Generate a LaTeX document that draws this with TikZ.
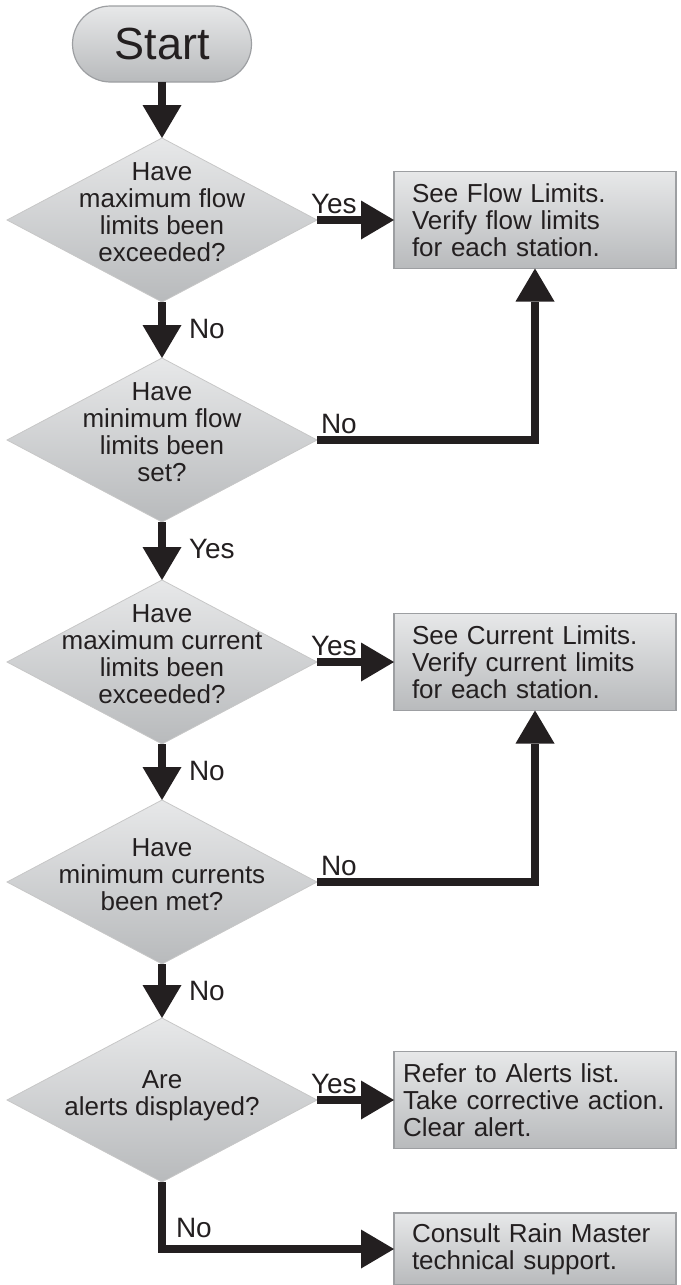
\documentclass[tikz,border=0pt]{standalone}
\usepackage{fontspec}
\setmainfont{Liberation Sans}
\usetikzlibrary{arrows.meta, calc, shapes.geometric}
\definecolor{ink}{HTML}{231F20}
\definecolor{shadetop}{HTML}{E7E8E9}
\definecolor{shadebot}{HTML}{B8BABC}
\definecolor{rim}{HTML}{9D9FA2}

\begin{document}
\begin{tikzpicture}[x=1pt, y=1pt, >={Triangle[width=39pt, length=33pt, line width=0pt]},
  every node/.style={text=ink},
  terminal/.style={rectangle, rounded corners=38pt, minimum width=179pt, minimum height=76pt, inner sep=0pt, outer sep=0pt,
    top color=shadetop, bottom color=shadebot, draw=rim, line width=1.2pt, font=\fontsize{45pt}{50pt}\selectfont},
  decision/.style={diamond, minimum width=310pt, minimum height=164pt, inner sep=0pt, outer sep=0pt,
    top color=shadetop, bottom color=shadebot, draw=black!22, line width=0.8pt},
  qtext/.style={align=center, inner sep=0pt, font=\fontsize{26pt}{27pt}\selectfont},
  action/.style={rectangle, minimum width=282pt, minimum height=97pt, text width=246pt, inner xsep=18pt, inner ysep=0pt, outer sep=0pt,
    align=left, top color=shadetop, bottom color=shadebot, draw=rim, line width=1.2pt, font=\fontsize{26pt}{27pt}\selectfont},
  tag/.style={inner sep=0pt, font=\fontsize{28pt}{30pt}\selectfont},
  flow/.style={->, draw=ink, line width=8pt}]
  \useasboundingbox (0,0) rectangle (680,-1285);

  % start and the five questions
  \node[terminal] (start) at (162,-44) {Start};
  \node[decision] (q1) at (162,-220) {};
  \node[decision] (q2) at (162,-440) {};
  \node[decision] (q3) at (162,-662) {};
  \node[decision] (q4) at (162,-882) {};
  \node[decision] (q5) at (162,-1100) {};
  \node[qtext] (q1t) at ($(q1)+(0,8)$) {Have\\maximum flow\\limits been\\exceeded?};
  \node[qtext] (q2t) at ($(q2)+(0,8)$) {Have\\minimum flow\\limits been\\set?};
  \node[qtext] (q3t) at ($(q3)+(0,8)$) {Have\\maximum current\\limits been\\exceeded?};
  \node[qtext] (q4t) at ($(q4)+(0,7)$) {Have\\minimum currents\\been met?};
  \node[qtext] (q5t) at ($(q5)+(0,4)$) {Are\\alerts displayed?};

  % actions
  \node[action] (a1) at (535,-220) {See Flow Limits.\\Verify flow limits\\for each station.};
  \node[action] (a2) at (535,-662) {See Current Limits.\\Verify current limits\\for each station.};
  \node[action, text width=264pt, inner xsep=9pt] (a3) at (535,-1100) {Refer to Alerts list.\\Take corrective action.\\Clear alert.};
  \node[action, minimum height=72pt] (a4) at (535,-1249) {Consult Rain Master\\technical support.};

  % connectors
  \draw[flow] (start.south) -- (q1.north);
  \draw[flow] (q1.east) -- (a1.west) node[tag, pos=0, anchor=base west, xshift=-10pt, yshift=7pt] {Yes};
  \draw[flow] (q1.south) -- (q2.north) node[tag, pos=0, anchor=base west, xshift=23pt, yshift=-36pt] {No};
  \draw[flow] (q2.east) -| (a1.south) node[tag, pos=0, anchor=base west, yshift=7pt] {No};
  \draw[flow] (q2.south) -- (q3.north) node[tag, pos=0, anchor=base west, xshift=23pt, yshift=-36pt] {Yes};
  \draw[flow] (q3.east) -- (a2.west) node[tag, pos=0, anchor=base west, xshift=-10pt, yshift=7pt] {Yes};
  \draw[flow] (q3.south) -- (q4.north) node[tag, pos=0, anchor=base west, xshift=23pt, yshift=-36pt] {No};
  \draw[flow] (q4.east) -| (a2.south) node[tag, pos=0, anchor=base west, yshift=7pt] {No};
  \draw[flow] (q4.south) -- (q5.north) node[tag, pos=0, anchor=base west, xshift=23pt, yshift=-36pt] {No};
  \draw[flow] (q5.east) -- (a3.west) node[tag, pos=0, anchor=base west, xshift=-10pt, yshift=7pt] {Yes};
  \draw[flow] (q5.south) |- (a4.west) node[tag, pos=0, anchor=base west, xshift=10pt, yshift=-55pt] {No};
\end{tikzpicture}
\end{document}
